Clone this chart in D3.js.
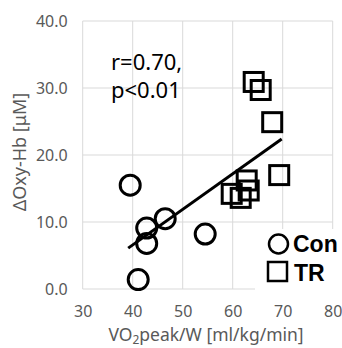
<!DOCTYPE html>
<html>
<head>
<meta charset="utf-8">
<script src="https://cdn.jsdelivr.net/npm/d3@7"></script>
<style>
  body { margin: 0; background: #fff; }
  svg { display: block; font-family: "Noto Sans", "Open Sans", sans-serif; }
</style>
</head>
<body>
<div id="chart"></div>
<script>
// values
let conX = [39.5, 42.8, 42.8, 46.5, 54.5, 41.1]
let conY = [15.5, 9.1, 6.8, 10.5, 8.2, 1.4]
let trX = [64.2, 65.6, 67.9, 69.3, 62.8, 59.8, 63.2, 61.6]
let trY = [30.9, 29.7, 24.9, 17.0, 16.2, 14.2, 14.7, 13.6]
let fitX = [39.1, 69.8]
let fitY = [6.1, 22.4]
let xTicks = [30, 40, 50, 60, 70, 80]
let yTicks = [0, 10, 20, 30, 40]

let W = 342, H = 348
let svg = d3.select('#chart').append('svg')
	.attr('width', W).attr('height', H)

let x = d3.scaleLinear().domain([30, 80]).range([82.7, 332.7])
let y = d3.scaleLinear().domain([0, 40]).range([289, 21])

// grid
let grid = svg.append('g')
grid.selectAll('.hg').data(yTicks).enter().append('line')
	.attr('x1', x(30)).attr('x2', x(80))
	.attr('y1', d => y(d)).attr('y2', d => y(d))
	.attr('stroke', '#d9d9d9').attr('stroke-width', 1)
grid.selectAll('.vg').data(xTicks).enter().append('line')
	.attr('x1', d => x(d)).attr('x2', d => x(d))
	.attr('y1', y(0)).attr('y2', y(40))
	.attr('stroke', '#d9d9d9').attr('stroke-width', 1)

// axes (labels only)
let yAxis = svg.append('g')
	.attr('transform', 'translate(' + x(30) + ',0)')
	.call(d3.axisLeft(y).tickValues(yTicks).tickSize(0).tickPadding(15).tickFormat(d3.format('.1f')))
let xAxis = svg.append('g')
	.attr('transform', 'translate(0,' + y(0) + ')')
	.call(d3.axisBottom(x).tickValues(xTicks).tickSize(0).tickPadding(17).tickFormat(d3.format('d')))
svg.selectAll('.domain').remove()
svg.selectAll('.tick text')
	.attr('fill', '#595959')
	.style('font-size', '16px')
	.style('font-family', '"Noto Sans", sans-serif')

// axis titles
let xt = svg.append('text')
	.attr('x', 206).attr('y', 341)
	.attr('text-anchor', 'middle')
	.attr('fill', '#595959')
	.style('font-size', '17.5px')
xt.append('tspan').text('VO')
xt.append('tspan').text('2').style('font-size', '12px').attr('dy', 3)
xt.append('tspan').text('peak/W [ml/kg/min]').attr('dy', -3)

svg.append('text')
	.attr('transform', 'translate(26,152) rotate(-90)')
	.attr('text-anchor', 'middle')
	.attr('fill', '#595959')
	.style('font-size', '18px')
	.text('ΔOxy-Hb [μM]')

// regression line
let fit = fitX.map((d, i) => [d, fitY[i]])
svg.append('path')
	.datum(fit)
	.attr('d', d3.line().x(d => x(d[0])).y(d => y(d[1])))
	.attr('stroke', '#000').attr('stroke-width', 3).attr('fill', 'none')

// markers
let con = conX.map((d, i) => [d, conY[i]])
let tr = trX.map((d, i) => [d, trY[i]])

svg.append('g').selectAll('circle').data(con).enter().append('circle')
	.attr('cx', d => x(d[0])).attr('cy', d => y(d[1]))
	.attr('r', 10)
	.attr('fill', 'none').attr('stroke', '#000').attr('stroke-width', 3)

let s = 19
svg.append('g').selectAll('rect').data(tr).enter().append('rect')
	.attr('x', d => x(d[0]) - s / 2).attr('y', d => y(d[1]) - s / 2)
	.attr('width', s).attr('height', s)
	.attr('fill', 'none').attr('stroke', '#000').attr('stroke-width', 3)

// annotation
svg.append('text').attr('x', 111).attr('y', 70)
	.style('font-size', '22px').attr('fill', '#000').text('r=0.70,')
svg.append('text').attr('x', 111).attr('y', 98)
	.style('font-size', '22px').attr('fill', '#000').text('p<0.01')

// legend
let lg = svg.append('g')
lg.append('rect').attr('x', 255).attr('y', 229).attr('width', 87).attr('height', 63).attr('fill', '#fff')
lg.append('circle').attr('cx', 278.5).attr('cy', 244).attr('r', 9.5)
	.attr('fill', 'none').attr('stroke', '#000').attr('stroke-width', 2.5)
lg.append('text').attr('x', 293).attr('y', 252)
	.style('font-family', '"Liberation Sans", Arial, sans-serif')
	.style('font-size', '23px').style('font-weight', 'bold').attr('fill', '#000').text('Con')
lg.append('rect').attr('x', 268).attr('y', 262).attr('width', 19).attr('height', 19)
	.attr('fill', 'none').attr('stroke', '#000').attr('stroke-width', 2.5)
lg.append('text').attr('x', 294).attr('y', 281)
	.style('font-family', '"Liberation Sans", Arial, sans-serif')
	.style('font-size', '23px').style('font-weight', 'bold').attr('fill', '#000').text('TR')
</script>
</body>
</html>
